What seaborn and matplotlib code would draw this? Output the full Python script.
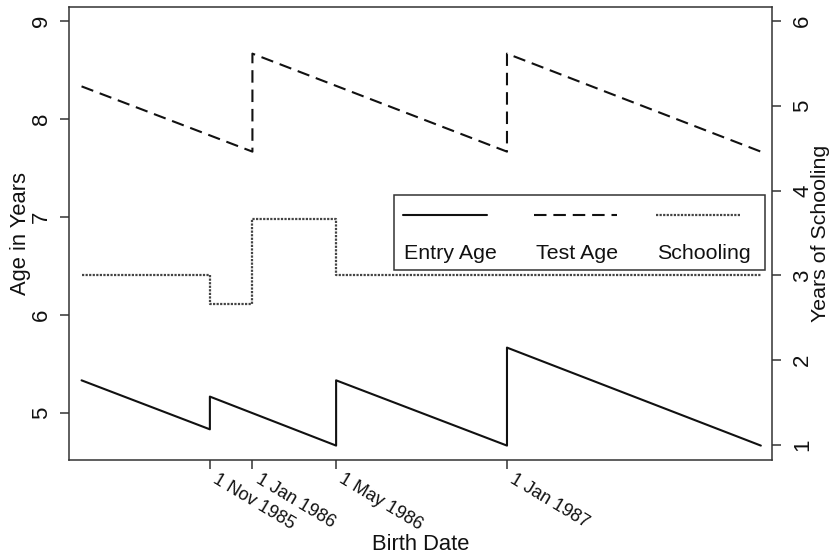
import matplotlib
matplotlib.use("Agg")
import matplotlib.pyplot as plt
import matplotlib.transforms as mtransforms
from matplotlib.lines import Line2D
from matplotlib.patches import Rectangle
import seaborn as sns
import pandas as pd

# ---------------- data ----------------
entry_dates = ["1985-05-01", "1985-11-01", "1985-11-01", "1986-05-01",
               "1986-05-01", "1987-01-01", "1987-01-01", "1987-12-31"]
entry_age = [5.333, 4.833, 5.167, 4.667, 5.333, 4.667, 5.667, 4.667]

test_dates = ["1985-05-01", "1986-01-01", "1986-01-01", "1987-01-01",
              "1987-01-01", "1987-12-31"]
test_age = [8.333, 7.667, 8.667, 7.667, 8.667, 7.667]

school_dates = ["1985-05-01", "1985-11-01", "1985-11-01", "1986-01-01",
                "1986-01-01", "1986-05-01", "1986-05-01", "1987-12-31"]
schooling = [3, 3, 2.667, 2.667, 3.667, 3.667, 3, 3]

tick_dates = ["1985-11-01", "1986-01-01", "1986-05-01", "1987-01-01"]
tick_labels = ["1 Nov 1985", "1 Jan 1986", "1 May 1986", "1 Jan 1987"]
left_ticks = [5, 6, 7, 8, 9]
right_ticks = [1, 2, 3, 4, 5, 6]
legend_labels = ["Entry Age", "Test Age", "Schooling"]

# ---------------- style ----------------
sns.set_theme(style="ticks")
plt.rcParams["font.family"] = ["Liberation Sans", "DejaVu Sans"]
plt.rcParams["axes.edgecolor"] = "#333333"
plt.rcParams["axes.linewidth"] = 1.1
plt.rcParams["xtick.color"] = "#333333"
plt.rcParams["ytick.color"] = "#333333"
plt.rcParams["xtick.labelcolor"] = "#111111"
plt.rcParams["ytick.labelcolor"] = "#111111"

fig = plt.figure(figsize=(8.32, 5.59), dpi=100)
ax = fig.add_axes([69 / 832, 1 - 460 / 559, 703 / 832, 453 / 559])
ax2 = ax.twinx()

LW = 1.5
DARK = "#111111"
GREY = "#444444"
solid = "-"
dashed = (0, (6, 3.3))
dotted = (0, (1.0, 0.6))

sns.lineplot(x=pd.to_datetime(entry_dates), y=entry_age, ax=ax, color=DARK,
             lw=LW, linestyle=solid, estimator=None, sort=False)
sns.lineplot(x=pd.to_datetime(test_dates), y=test_age, ax=ax, color=DARK,
             lw=LW, linestyle=dashed, estimator=None, sort=False)
sns.lineplot(x=pd.to_datetime(school_dates), y=schooling, ax=ax2,
             color=GREY, lw=1.6, linestyle=dotted, estimator=None,
             sort=False)

ax.set_xlim(pd.Timestamp("1985-04-13"), pd.Timestamp("1988-01-16"))
ax.set_ylim(4.52, 9.143)
ax2.set_ylim(0.823, 6.165)

ax.set_xticks(pd.to_datetime(tick_dates))
ax.set_xticklabels(tick_labels, rotation=-31, ha="left", va="top",
                   rotation_mode="anchor", fontsize=13)
ax.set_yticks(left_ticks)
ax.set_yticklabels([str(v) for v in left_ticks], rotation=90, va="center",
                   fontsize=16)
ax2.set_yticks(right_ticks)
ax2.set_yticklabels([str(v) for v in right_ticks], rotation=90, va="center",
                    fontsize=16)

ax.tick_params(axis="both", direction="out", length=6.5, width=1.1)
ax.tick_params(axis="y", pad=6)
ax.tick_params(axis="x", pad=1)
ax2.tick_params(axis="y", direction="out", length=6.5, width=1.1, pad=8)

offset = mtransforms.ScaledTranslation(9 / 100, 0, fig.dpi_scale_trans)
for lab in ax.get_xticklabels():
    lab.set_transform(lab.get_transform() + offset)

ax.set_xlabel("Birth Date", fontsize=15.8, color=DARK)
ax.set_ylabel("Age in Years", fontsize=15.8, color=DARK)
ax2.set_ylabel("Years of Schooling", fontsize=15.4, color=DARK)
ax.xaxis.set_label_coords(0.5, -0.163)
ax.yaxis.set_label_coords(-0.054, 0.5)
ax2.yaxis.set_label_coords(1.056, 0.5)

for sp in ax2.spines.values():
    sp.set_visible(False)
for sp in ax.spines.values():
    sp.set_visible(True)

# ---------------- legend (lines on top, labels below) ----------------
ax2.add_patch(Rectangle((0.4623, 0.4194), 0.990 - 0.4623, 0.585 - 0.4194,
                        transform=ax2.transAxes, facecolor="white",
                        edgecolor="#333333", lw=1.1, zorder=5))
leg_line_x = [(0.4751, 0.5946), (0.6615, 0.7795), (0.8350, 0.9545)]
leg_text_x = [0.4765, 0.6643, 0.8364]
leg_styles = [(DARK, solid, LW), (DARK, dashed, LW), (GREY, dotted, 1.6)]
for (x0, x1), tx, (c, ls, lw), lab in zip(leg_line_x, leg_text_x,
                                           leg_styles, legend_labels):
    ax2.add_line(Line2D([x0, x1], [0.5408, 0.5408], transform=ax2.transAxes,
                        color=c, linestyle=ls, lw=lw, zorder=6))
    ax2.text(tx, 0.4437, lab, transform=ax2.transAxes, fontsize=15.4,
             va="baseline", ha="left", color=DARK, zorder=6)

fig.savefig("out.png", dpi=100)
